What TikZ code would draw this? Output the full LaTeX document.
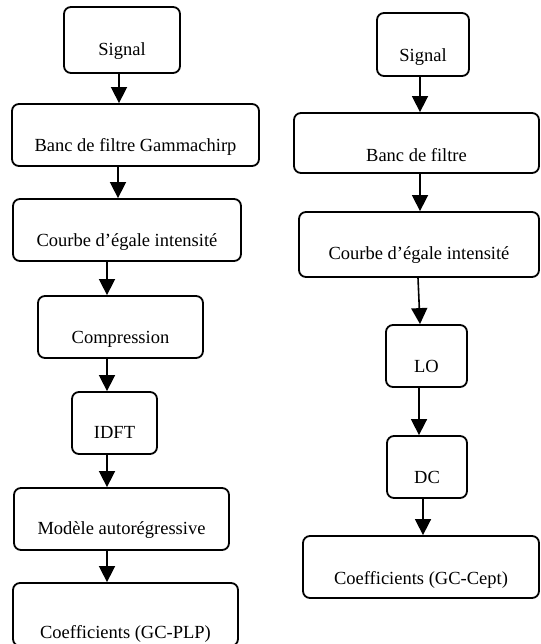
\documentclass[tikz,border=0pt]{standalone}
\usepackage{fontspec}
\setmainfont{Liberation Serif}
\usetikzlibrary{arrows.meta}
\begin{document}
\begin{tikzpicture}[x=1pt,y=-1pt,
  stepbox/.style={draw, line width=1.8pt, rounded corners=7pt, inner sep=0pt,
    font=\fontsize{18.5}{22}\selectfont, text depth=0pt, align=center},
  toff/.style={text height={2*(#1+6.1)*1pt}},
  sz/.style 2 args={minimum width=#1, minimum height=#2},
  arr/.style={line width=1.6pt, -{Triangle[width=16pt,length=16pt]}}
]
\useasboundingbox (0,0) rectangle (540,644);
% left column
\node[stepbox, sz={116pt}{66pt}, toff=9] (s1) at (122,40) {Signal};
\node[stepbox, sz={247pt}{62pt}, toff=10] (b1) at (135.5,135) {Banc de filtre Gammachirp};
\node[stepbox, sz={228pt}{62pt}, toff=10] (c1) at (127,230) {Courbe d’égale intensité};
\node[stepbox, sz={165pt}{62pt}, toff=10] (p1) at (120.5,327) {Compression};
\node[stepbox, sz={85pt}{62pt}, toff=9] (i1) at (114.5,423) {IDFT};
\node[stepbox, sz={215pt}{62pt}, toff=9] (m1) at (121.5,519) {Modèle autorégressive};
\node[stepbox, sz={225pt}{63pt}, toff=18] (k1) at (125.5,614.5) {Coefficients (GC-PLP)};
% right column
\node[stepbox, sz={92pt}{63pt}, toff=10.5] (s2) at (423,44.5) {Signal};
\node[stepbox, sz={245pt}{60pt}, toff=12] (b2) at (416.5,143) {Banc de filtre};
\node[stepbox, sz={240pt}{65pt}, toff=8.5] (c2) at (419,244.5) {Courbe d’égale intensité};
\node[stepbox, sz={81pt}{62pt}, toff=10] (l2) at (426.5,356) {LO};
\node[stepbox, sz={80pt}{62pt}, toff=10] (d2) at (427,467) {DC};
\node[stepbox, sz={236pt}{62pt}, toff=11] (k2) at (421,567) {Coefficients (GC-Cept)};
% connectors left
\draw[arr] (s1.south -| 119,0) -- (b1.north -| 119,0);
\draw[arr] (b1.south -| 118,0) -- (c1.north -| 118,0);
\draw[arr] (c1.south -| 107,0) -- (p1.north -| 107,0);
\draw[arr] (p1.south -| 107,0) -- (i1.north -| 107,0);
\draw[arr] (i1.south -| 107,0) -- (m1.north -| 107,0);
\draw[arr] (m1.south -| 107,0) -- (k1.north -| 107,0);
% connectors right
\draw[arr] (s2.south -| 420,0) -- (b2.north -| 420,0);
\draw[arr] (b2.south -| 420,0) -- (c2.north -| 420,0);
\draw[arr] (c2.south -| 418,0) -- (l2.north -| 420,0);
\draw[arr] (l2.south -| 419,0) -- (d2.north -| 419,0);
\draw[arr] (d2.south -| 423,0) -- (k2.north -| 423,0);
\end{tikzpicture}
\end{document}
